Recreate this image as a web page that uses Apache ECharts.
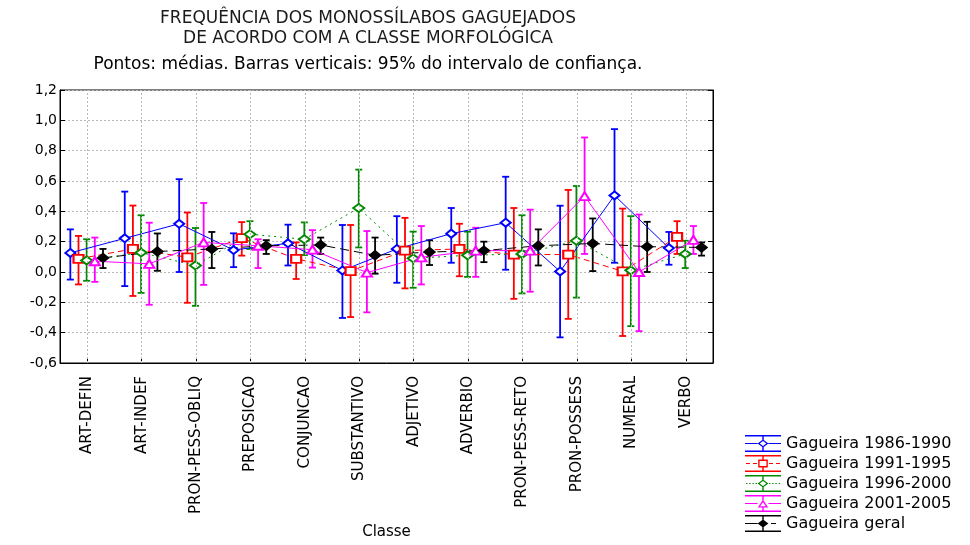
<!DOCTYPE html>
<html>
<head>
<meta charset="utf-8">
<script src="https://cdn.jsdelivr.net/npm/echarts@6/dist/echarts.min.js"></script>
<style>
  html, body { margin: 0; padding: 0; background: #ffffff; }
  #chart { width: 970px; height: 545px; }
</style>
</head>
<body>
<div id="chart"></div>
<script>
// Morphological classes (x axis)
const CATEGORIES = ['ART-DEFIN', 'ART-INDEF', 'PRON-PESS-OBLIQ', 'PREPOSICAO', 'CONJUNCAO', 'SUBSTANTIVO',
                    'ADJETIVO', 'ADVERBIO', 'PRON-PESS-RETO', 'PRON-POSSESS', 'NUMERAL', 'VERBO'];
const SERIES_NAMES = ['Gagueira 1986-1990', 'Gagueira 1991-1995', 'Gagueira 1996-2000', 'Gagueira 2001-2005', 'Gagueira geral'];
const Y_TICKS = [-0.6, -0.4, -0.2, 0.0, 0.2, 0.4, 0.6, 0.8, 1.0, 1.2];

// Means and 95% confidence limits per period
const MEAN_8690 = [0.126, 0.222, 0.318, 0.145, 0.189, 0.010, 0.152, 0.253, 0.325, 0.004, 0.505, 0.158];
const LOW_8690  = [-0.050, -0.093, 0.000, 0.032, 0.043, -0.303, -0.071, 0.061, 0.015, -0.431, 0.061, 0.048];
const HIGH_8690 = [0.281, 0.530, 0.612, 0.255, 0.312, 0.310, 0.368, 0.422, 0.628, 0.437, 0.942, 0.264];

const MEAN_9195 = [0.087, 0.152, 0.097, 0.223, 0.087, 0.006, 0.141, 0.152, 0.115, 0.115, 0.004, 0.232];
const LOW_9195  = [-0.082, -0.158, -0.203, 0.108, -0.046, -0.297, -0.108, -0.028, -0.177, -0.309, -0.422, 0.119];
const HIGH_9195 = [0.238, 0.438, 0.392, 0.329, 0.195, 0.310, 0.357, 0.318, 0.422, 0.541, 0.418, 0.335];

const MEAN_9600 = [0.076, 0.128, 0.043, 0.249, 0.216, 0.422, 0.090, 0.110, 0.119, 0.206, 0.011, 0.119];
const LOW_9600  = [-0.058, -0.138, -0.223, 0.152, 0.112, 0.162, -0.104, -0.032, -0.141, -0.169, -0.357, 0.026];
const HIGH_9600 = [0.216, 0.374, 0.290, 0.335, 0.327, 0.675, 0.266, 0.266, 0.374, 0.567, 0.368, 0.206];

const MEAN_0105 = [0.071, 0.054, 0.195, 0.173, 0.147, -0.004, 0.097, 0.141, 0.141, 0.500, 0.000, 0.212];
const LOW_0105  = [-0.065, -0.216, -0.085, 0.026, 0.029, -0.266, -0.082, -0.032, -0.130, 0.119, -0.390, 0.119];
const HIGH_0105 = [0.227, 0.325, 0.455, 0.216, 0.276, 0.270, 0.303, 0.292, 0.411, 0.887, 0.379, 0.303];

const MEAN_GERAL = [0.093, 0.135, 0.152, 0.173, 0.178, 0.110, 0.132, 0.141, 0.173, 0.188, 0.167, 0.162];
const LOW_GERAL  = [0.026, 0.008, 0.026, 0.119, 0.119, -0.011, 0.046, 0.065, 0.043, 0.006, 0.000, 0.108];
const HIGH_GERAL = [0.152, 0.254, 0.264, 0.210, 0.227, 0.227, 0.209, 0.200, 0.281, 0.353, 0.331, 0.195];

const FONT = "'DejaVu Sans', 'Liberation Sans', sans-serif";
const COLORS = ['#0000ff', '#ff0000', '#008a00', '#ff00ff', '#000000'];
const SYMBOLS = ['emptyDiamond', 'emptyRect', 'emptyDiamond', 'emptyTriangle', 'diamond'];
const SYMBOL_SIZES = [[10, 8], [10, 8], [11, 8], [10, 8], [11, 9]];
const LINE_TYPES = ['solid', [6, 4], [2, 4], 'solid', [9, 5]];
const GRID_LINE = { color: '#b8b8b8', type: [2, 2], width: 1 };
// Horizontal dodge of each period around its class position (in category units)
const DODGE = [-0.31, -0.16, -0.01, 0.14, 0.29];

const MEANS = [MEAN_8690, MEAN_9195, MEAN_9600, MEAN_0105, MEAN_GERAL];
const LOWS  = [LOW_8690, LOW_9195, LOW_9600, LOW_0105, LOW_GERAL];
const HIGHS = [HIGH_8690, HIGH_9195, HIGH_9600, HIGH_0105, HIGH_GERAL];

// Legend glyphs: caps, stem, connecting line pattern and point marker
const CAPS = 'M0 0H36V1.4H0Z M0 15.6H36V17H0Z M17.3 1.4H18.7V4.9H17.3Z M17.3 12.1H18.7V15.6H17.3Z ';
const SOLID = 'M0 7.9H12.6V9.1H0Z M23.4 7.9H36V9.1H23.4Z ';
const DASHED = 'M1 7.9H5V9.1H1Z M8 7.9H12V9.1H8Z M24 7.9H28V9.1H24Z M31 7.9H35V9.1H31Z ';
const DOTTED = 'M1 7.9H2.4V9.1H1Z M4.2 7.9H5.6V9.1H4.2Z M7.4 7.9H8.8V9.1H7.4Z M10.6 7.9H12V9.1H10.6Z ' +
               'M24 7.9H25.4V9.1H24Z M27.2 7.9H28.6V9.1H27.2Z M30.4 7.9H31.8V9.1H30.4Z M33.6 7.9H35V9.1H33.6Z ';
const LONGDASH = 'M0 7.9H12.6V9.1H0Z M26 7.9H31V9.1H26Z ';
const HOLLOW_DIAMOND = 'M18 4.4L23.4 8.5L18 12.6L12.6 8.5Z M18 6L14.7 8.5L18 11L21.3 8.5Z';
const HOLLOW_SQUARE = 'M13.2 4.6H22.8V12.4H13.2Z M14.6 6V11H21.4V6Z';
const HOLLOW_TRIANGLE = 'M18 4.4L23.2 12.6H12.8Z M18 7.3L15.1 11.3H20.9Z';
const FILLED_DIAMOND = 'M18 4.4L23.4 8.5L18 12.6L12.6 8.5Z';
const LEGEND_ICONS = [
  'path://' + CAPS + SOLID + HOLLOW_DIAMOND,
  'path://' + CAPS + DASHED + HOLLOW_SQUARE,
  'path://' + CAPS + DOTTED + HOLLOW_DIAMOND,
  'path://' + CAPS + SOLID + HOLLOW_TRIANGLE,
  'path://' + CAPS + LONGDASH + FILLED_DIAMOND
];

function renderErrorBar(params, api) {
  const x = api.value(0);
  const top = api.coord([x, api.value(2)]);
  const bottom = api.coord([x, api.value(1)]);
  const half = 3.5;
  const style = { stroke: api.visual('color'), lineWidth: 1.8, fill: null };
  return {
    type: 'group',
    children: [
      { type: 'line', shape: { x1: top[0], y1: top[1], x2: bottom[0], y2: bottom[1] }, style: style },
      { type: 'line', shape: { x1: top[0] - half, y1: top[1], x2: top[0] + half, y2: top[1] }, style: style },
      { type: 'line', shape: { x1: bottom[0] - half, y1: bottom[1], x2: bottom[0] + half, y2: bottom[1] }, style: style }
    ]
  };
}

const series = [];

// Vertical dotted gridlines at each class position
series.push({
  type: 'line',
  xAxisIndex: 1,
  yAxisIndex: 0,
  data: [],
  silent: true,
  z: 1,
  markLine: {
    silent: true,
    symbol: ['none', 'none'],
    label: { show: false },
    lineStyle: GRID_LINE,
    emphasis: { disabled: true },
    animation: false,
    data: CATEGORIES.map(function (c, i) { return { xAxis: i }; })
  }
});

SERIES_NAMES.forEach(function (name, s) {
  series.push({
    name: name,
    type: 'custom',
    xAxisIndex: 1,
    yAxisIndex: 0,
    itemStyle: { color: COLORS[s] },
    renderItem: renderErrorBar,
    encode: { x: 0, y: [1, 2] },
    data: CATEGORIES.map(function (c, i) { return [i + DODGE[s], LOWS[s][i], HIGHS[s][i]]; }),
    silent: true
  });
  series.push({
    name: name,
    type: 'line',
    xAxisIndex: 1,
    yAxisIndex: 0,
    color: COLORS[s],
    symbol: SYMBOLS[s],
    symbolSize: SYMBOL_SIZES[s],
    showAllSymbol: true,
    itemStyle: { color: COLORS[s], borderColor: COLORS[s], borderWidth: 1.5 },
    lineStyle: { color: COLORS[s], width: 1, type: LINE_TYPES[s] },
    emphasis: { disabled: true },
    animation: false,
    data: CATEGORIES.map(function (c, i) { return [i + DODGE[s], MEANS[s][i]]; })
  });
});

function fmtTick(v) {
  if (Math.abs(v) < 1e-9) return '0,0';
  return v.toFixed(1).replace('.', ',');
}

const chart = echarts.init(document.getElementById('chart'), null, { renderer: 'canvas' });
chart.setOption({
  animation: false,
  backgroundColor: '#ffffff',
  textStyle: { fontFamily: FONT },
  title: {
    text: 'FREQUÊNCIA DOS MONOSSÍLABOS GAGUEJADOS\nDE ACORDO COM A CLASSE MORFOLÓGICA',
    subtext: 'Pontos: médias. Barras verticais: 95% do intervalo de confiança.',
    left: 368,
    top: 9,
    textAlign: 'center',
    padding: 0,
    itemGap: 6,
    textStyle: { fontFamily: FONT, fontSize: 17, fontWeight: 'normal', color: '#1a1a1a', lineHeight: 20 },
    subtextStyle: { fontFamily: FONT, fontSize: 17, color: '#000000', lineHeight: 19 }
  },
  legend: {
    orient: 'vertical',
    left: 740,
    top: 430,
    itemWidth: 36,
    itemHeight: 17,
    itemGap: 3,
    itemStyle: { borderWidth: 0 },
    textStyle: { fontFamily: FONT, fontSize: 16, color: '#000000', lineHeight: 17 },
    data: SERIES_NAMES.map(function (n, i) { return { name: n, icon: LEGEND_ICONS[i] }; })
  },
  grid: {
    left: 60, top: 90, width: 653, height: 277,
    show: true, borderColor: '#000000', borderWidth: 1, backgroundColor: 'transparent',
    containLabel: false
  },
  xAxis: [
    {
      type: 'category',
      data: CATEGORIES,
      boundaryGap: true,
      position: 'bottom',
      name: 'Classe',
      nameLocation: 'middle',
      nameGap: 162,
      nameTextStyle: { fontFamily: FONT, fontSize: 15, color: '#000000' },
      axisLine: { show: true, onZero: false, lineStyle: { color: '#000000', width: 1 } },
      axisTick: { show: true, inside: true, length: 5, alignWithLabel: true, lineStyle: { color: '#000000' } },
      axisLabel: { rotate: 90, margin: 13, fontFamily: FONT, fontSize: 15, color: '#000000', interval: 0 },
      splitLine: { show: false }
    },
    {
      type: 'value',
      min: -0.5,
      max: 11.5,
      show: false,
      axisLine: { onZero: false },
      splitLine: { show: false }
    }
  ],
  yAxis: [
    {
      type: 'value',
      min: Y_TICKS[0],
      max: Y_TICKS[Y_TICKS.length - 1],
      interval: 0.2,
      position: 'left',
      axisLine: { show: true, onZero: false, lineStyle: { color: '#000000', width: 1 } },
      axisTick: { show: true, inside: true, length: 5, lineStyle: { color: '#000000' } },
      axisLabel: { formatter: fmtTick, fontFamily: FONT, fontSize: 14, color: '#000000', margin: 3 },
      splitLine: { show: true, lineStyle: GRID_LINE }
    },
    {
      type: 'value',
      min: Y_TICKS[0],
      max: Y_TICKS[Y_TICKS.length - 1],
      interval: 0.2,
      position: 'right',
      axisLine: { show: true, onZero: false, lineStyle: { color: '#000000', width: 1 } },
      axisTick: { show: true, inside: true, length: 5, lineStyle: { color: '#000000' } },
      axisLabel: { show: false },
      splitLine: { show: false }
    }
  ],
  series: series
});
</script>
</body>
</html>
